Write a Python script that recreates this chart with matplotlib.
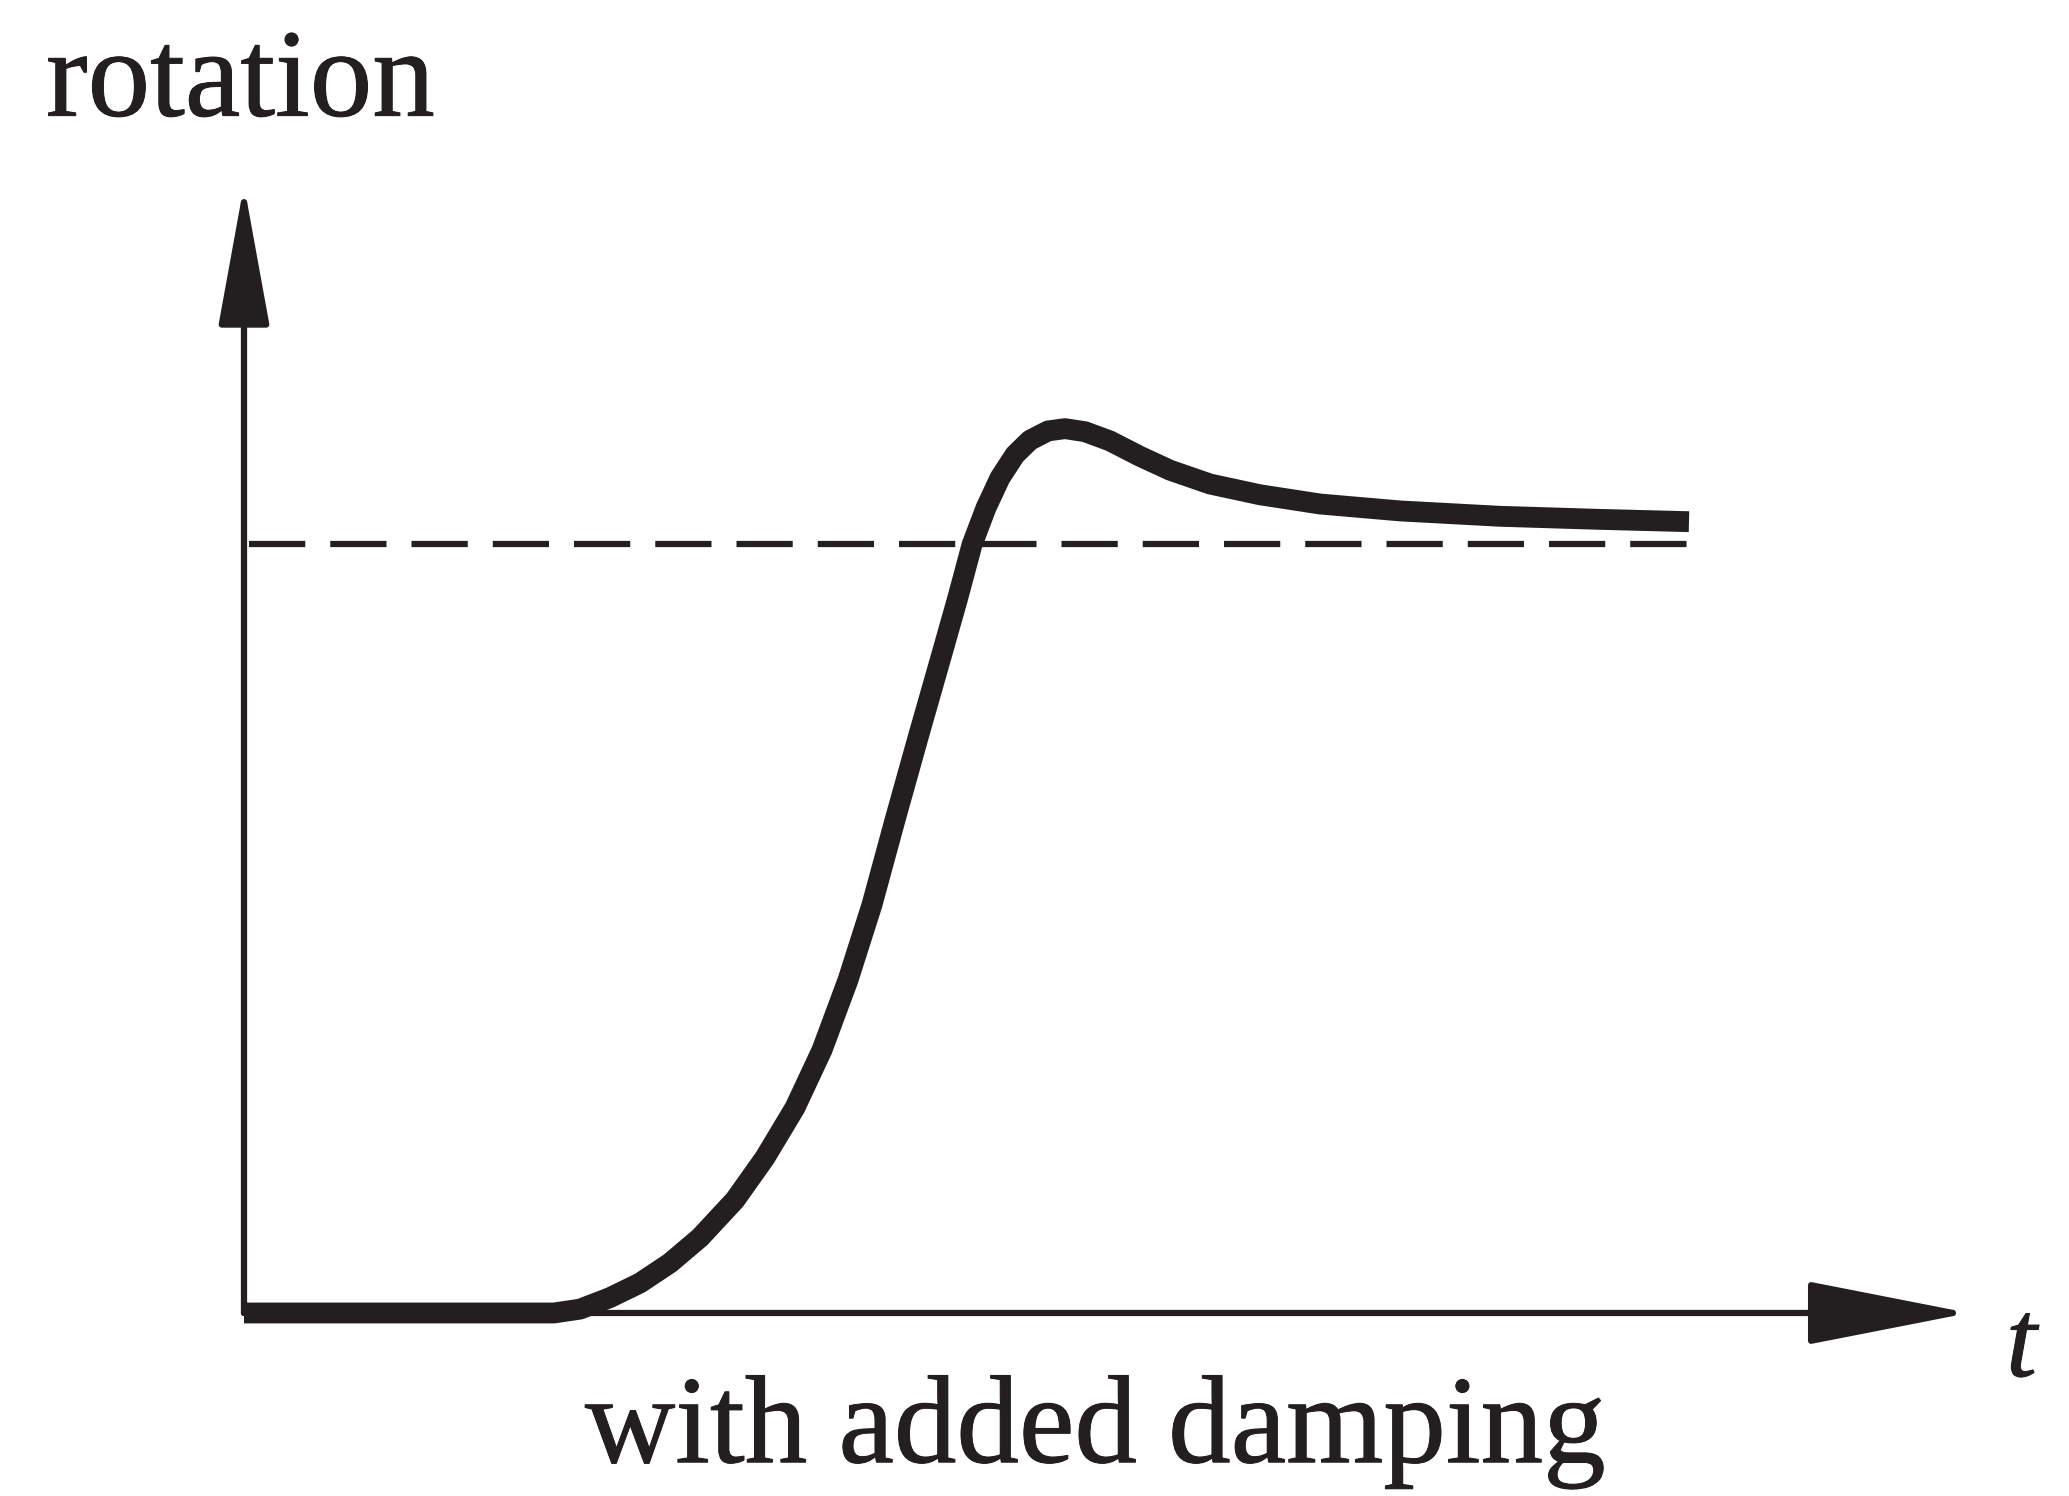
import numpy as np
import matplotlib.pyplot as plt
import matplotlib.patheffects as pe

# response curve (t in arbitrary units, rotation relative to the final value)
t = [0.0, 3.10, 3.36, 3.66, 3.96, 4.26, 4.56, 4.91, 5.21, 5.51, 5.78, 6.04, 6.28, 6.51,
     6.74, 6.99, 7.14, 7.28, 7.42, 7.56, 7.71, 7.86, 8.04, 8.21, 8.41, 8.66, 8.96,
     9.26, 9.66, 10.16, 10.76, 11.56, 12.56, 13.56, 14.45]
rotation = [0.0, 0.0, 0.005, 0.020, 0.039, 0.065, 0.098, 0.147, 0.202, 0.267, 0.342, 0.433, 0.531, 0.641,
            0.748, 0.862, 0.931, 0.999, 1.047, 1.086, 1.116, 1.135, 1.147, 1.150, 1.146, 1.134, 1.114,
            1.096, 1.078, 1.064, 1.052, 1.043, 1.036, 1.032, 1.029]
steady = 1.0
t_end = 14.45
y_top = 1.467
t_right = 17.25

ink = '#231f20'
serif = ['Liberation Serif', 'DejaVu Serif']
bolder = [pe.withStroke(linewidth=0.7, foreground=ink)]

fig = plt.figure(figsize=(20.69, 14.96), dpi=100)
ax = fig.add_axes([0, 0, 1, 1])
ax.set_xlim(-2.44, 18.25)
ax.set_ylim(-0.238, 1.7074)
ax.axis('off')

# axes with arrow heads
ax.annotate('', xy=(0, y_top), xytext=(0, 0),
            arrowprops=dict(arrowstyle='-|>,head_length=88,head_width=16', lw=4.5,
                            color=ink, shrinkA=0, shrinkB=0, mutation_scale=1))
ax.annotate('', xy=(t_right, 0), xytext=(0, 0),
            arrowprops=dict(arrowstyle='-|>,head_length=102,head_width=20', lw=4.5,
                            color=ink, shrinkA=0, shrinkB=0, mutation_scale=1))

# final value
ax.plot([0.05, t_end], [steady, steady], color=ink, lw=4.5,
        linestyle=(0, (9.0, 4.0)), solid_capstyle='butt', dash_capstyle='butt')

# response
ax.plot(t, rotation, color=ink, lw=15, solid_capstyle='butt', solid_joinstyle='round')

ax.text(-1.98, 1.557, 'rotation', fontsize=90, family=serif, color=ink, va='baseline',
        path_effects=bolder)
ax.text(3.41, -0.194, 'with added damping', fontsize=90, family=serif, color=ink, va='baseline',
        path_effects=bolder)
ax.text(17.62, -0.082, 't', fontsize=80, family=serif, style='italic', color=ink, va='baseline',
        path_effects=bolder)

fig.savefig('out.png', dpi=100)
